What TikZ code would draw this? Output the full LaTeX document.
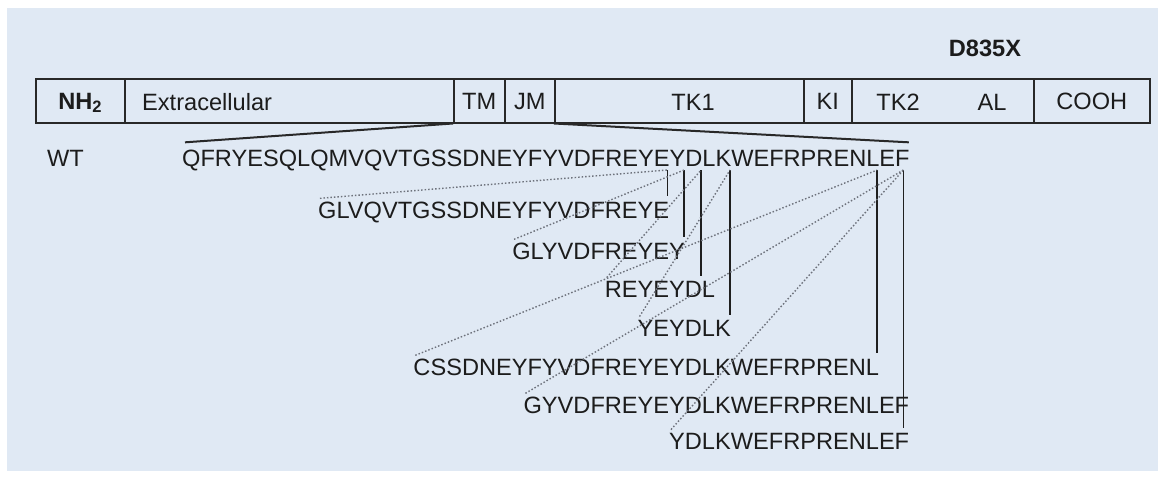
\documentclass[tikz,border=0pt]{standalone}
\usepackage{fontspec}
\setmainfont{Liberation Sans}
\usetikzlibrary{calc}
\definecolor{bgc}{RGB}{224,233,244}
\definecolor{txt}{RGB}{28,28,28}
\definecolor{boxc}{RGB}{40,40,40}
\definecolor{dotc}{RGB}{110,114,124}
\newcommand\seqfont{\fontsize{23.6pt}{28pt}\selectfont}
\begin{document}
\begin{tikzpicture}[x=1pt,y=-1pt,
  seq/.style={font=\seqfont, text=txt, inner sep=0pt},
  cell/.style={draw=boxc, line width=1.5pt, inner sep=0pt, minimum height=44pt, anchor=south west, font=\seqfont, text=txt, text height=16.9pt, text depth=0pt},
  lbl/.style={font=\seqfont, text=txt, inner sep=0pt, anchor=base},
  dotline/.style={draw=dotc, line width=1.4pt, dash pattern=on 1.5pt off 2pt},
  cutline/.style={draw=black!88, line width=1.5pt},
  brk/.style={draw=boxc, line width=2pt}]
\useasboundingbox (0,0) rectangle (1165,479);
\fill[white] (0,0) rectangle (1165,479);
\fill[bgc] (7,8) rectangle (1158,471);

% domain bar
\node[cell, minimum width=89pt]  (nh2)  at (35,123.5)   {\textbf{NH\textsubscript{2}}};
\node[cell, minimum width=329pt] (ext)  at (124,123.5)  {};
\node[cell, minimum width=51pt]  (tm)   at (453,123.5)  {TM};
\node[cell, minimum width=50pt]  (jm)   at (504,123.5)  {JM};
\node[cell, minimum width=249pt] (tk1)  at (554,123.5)  {};
\node[cell, minimum width=48pt]  (ki)   at (803,123.5)  {KI};
\node[cell, minimum width=182pt] (tk2)  at (851,123.5)  {};
\node[cell, minimum width=116pt] (cooh) at (1033,123.5) {COOH};
\node[lbl, anchor=base west] (lext) at (142,110) {Extracellular};
\node[lbl] (ltk1) at (693,110) {TK1};
\node[lbl] (ltk2) at (898,110) {TK2};
\node[lbl] (lal)  at (992,110) {AL};
\node[lbl, font=\seqfont\bfseries] (mut) at (985,56) {D835X};

% sequences
\seqfont
\pgfmathsetmacro\ea{182+width("QFRYESQLQMVQVTGSSDNEYFYVDFREYE")}
\pgfmathsetmacro\eb{182+width("QFRYESQLQMVQVTGSSDNEYFYVDFREYEY")}
\pgfmathsetmacro\ecd{182+width("QFRYESQLQMVQVTGSSDNEYFYVDFREYEYD")}
\pgfmathsetmacro\ec{182+width("QFRYESQLQMVQVTGSSDNEYFYVDFREYEYDL")}
\pgfmathsetmacro\ed{182+width("QFRYESQLQMVQVTGSSDNEYFYVDFREYEYDLK")}
\pgfmathsetmacro\ee{182+width("QFRYESQLQMVQVTGSSDNEYFYVDFREYEYDLKWEFRPRENL")}
\pgfmathsetmacro\ef{182+width("QFRYESQLQMVQVTGSSDNEYFYVDFREYEYDLKWEFRPRENLEF")}

\node[seq, anchor=base west] (wtl) at (47,166) {WT};
\node[seq, anchor=base west] (wt) at (182,166) {QFRYESQLQMVQVTGSSDNEYFYVDFREYEYDLKWEFRPRENLEF};
\node[seq, anchor=base east] (s1) at (\ea,218) {GLVQVTGSSDNEYFYVDFREYE};
\node[seq, anchor=base east] (s2) at (\eb,259) {GLYVDFREYEY};
\node[seq, anchor=base east] (s3) at (\ec,297) {REYEYDL};
\node[seq, anchor=base east] (s4) at (\ed,336) {YEYDLK};
\node[seq, anchor=base east] (s5) at (\ee,375) {CSSDNEYFYVDFREYEYDLKWEFRPRENL};
\node[seq, anchor=base east] (s6) at (\ef,413) {GYVDFREYEYDLKWEFRPRENLEF};
\node[seq, anchor=base east] (s7) at (\ef,449) {YDLKWEFRPRENLEF};

% bracket from bar to WT sequence
\draw[brk] (tm.south west) -- ([xshift=3pt,yshift=7pt]wt.north west);
\draw[brk] (tk1.south west) -- ([xshift=-1pt,yshift=7pt]wt.north east);

% cut points
\coordinate (t1) at ({\ea-2},170);
\coordinate (t2) at ({\eb-1},170);
\coordinate (t3) at ({\ecd-1},170);
\coordinate (t4) at ({\ed-1},170);
\coordinate (t5) at ({\ee-2},170);
\coordinate (t6) at ({\ef-6},170);

\draw[cutline, shorten >=5pt] (t1) -- (t1 |- s1.north);
\draw[cutline, shorten >=5pt] (t2) -- (t2 |- s2.north);
\draw[cutline, shorten >=5pt] (t3) -- (t3 |- s3.north);
\draw[cutline, shorten >=5pt] (t4) -- (t4 |- s4.north);
\draw[cutline, shorten >=5pt] (t5) -- (t5 |- s5.north);
\draw[cutline, shorten >=5pt] (t6) -- (t6 |- s7.north);

\draw[dotline] ([xshift=2pt,yshift=3pt]s1.north west) -- (t1);
\draw[dotline] ([xshift=2pt,yshift=3pt]s2.north west) -- (t2);
\draw[dotline] ([xshift=2pt,yshift=3pt]s3.north west) -- (t3);
\draw[dotline] ([xshift=2pt,yshift=3pt]s4.north west) -- (t4);
\draw[dotline] ([xshift=2pt,yshift=3pt]s5.north west) -- (t5);
\draw[dotline] ([xshift=2pt,yshift=3pt]s6.north west) -- (t6);
\draw[dotline] ([xshift=2pt,yshift=3pt]s7.north west) -- (t6);
\end{tikzpicture}
\end{document}
